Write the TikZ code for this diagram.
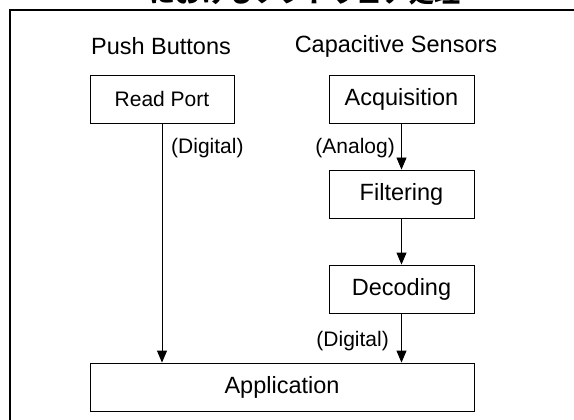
\documentclass[tikz,border=0pt]{standalone}
\usepackage{fontspec}
\setmainfont{Liberation Sans}
\newfontfamily\cjk{Noto Sans CJK JP}
\usetikzlibrary{arrows.meta}

\begin{document}
\begin{tikzpicture}[x=1pt,y=-1pt,
  block/.style={draw, line width=0.9pt, minimum height=48pt, inner sep=0pt},
  flow/.style={draw, line width=0.9pt, -{Triangle[length=12pt,width=10pt]}},
  small/.style={font=\fontsize{21}{24}\selectfont},
  big/.style={font=\fontsize{23.5}{27}\selectfont},
  lbl/.style={small, inner sep=0pt}]
\useasboundingbox (0,0) rectangle (574,420);
\clip (0,0) rectangle (574,420);

% heading, partly above the page edge
\node[anchor=base, inner sep=0pt, font=\cjk\bfseries\fontsize{26}{30}\selectfont]
  (title) at (305,3) {におけるソフトウェア処理};

% outer frame
\draw[line width=2.5pt] (10,440) -- (10,10) -- (600,10);

% column headings
\node[big, inner sep=0pt] (push) at (161,46) {Push Buttons};
\node[big, inner sep=0pt] (cap) at (396,46) {Capacitive Sensors};

% processing blocks
\node[block, small, minimum width=144pt] (read) at (162,99) {Read Port};
\node[block, big, minimum width=145pt] (acq) at (401.5,99) {Acquisition};
\node[block, big, minimum width=145pt] (filt) at (401.5,194) {Filtering};
\node[block, big, minimum width=145pt] (dec) at (401.5,289) {Decoding};
\node[block, big, minimum width=384pt] (app) at (282,387) {Application};

% signal labels
\node[lbl, anchor=west] (dig1) at (171,148) {(Digital)};
\node[lbl, anchor=east] (ana) at (395,148) {(Analog)};
\node[lbl, anchor=east] (dig2) at (389,341) {(Digital)};

% data flow
\draw[flow] (read.south) -- (read.south |- app.north);
\draw[flow] (acq) -- (filt);
\draw[flow] (filt) -- (dec);
\draw[flow] (dec.south) -- (dec.south |- app.north);
\end{tikzpicture}
\end{document}
